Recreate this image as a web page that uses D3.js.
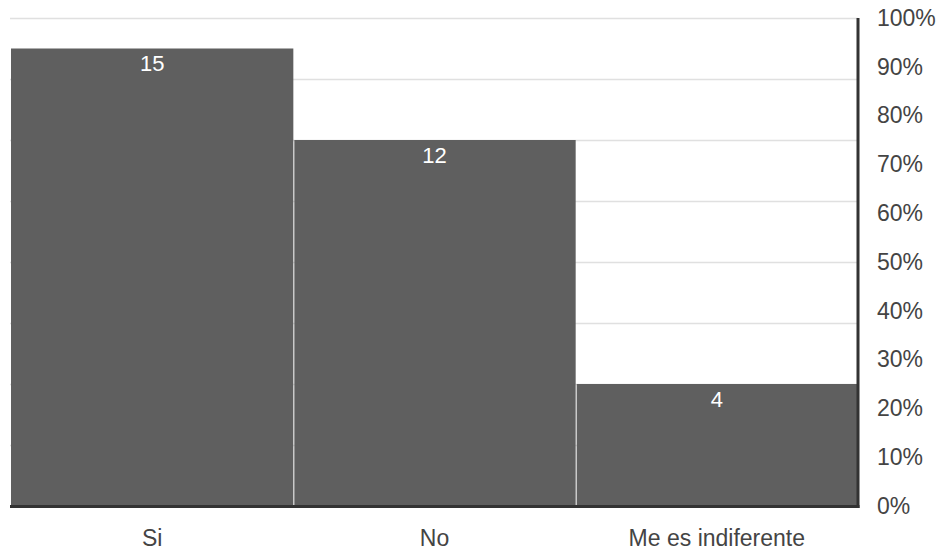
<!DOCTYPE html>
<html>
<head>
<meta charset="utf-8">
<script src="https://cdn.jsdelivr.net/npm/d3@7"></script>
<style>
  html, body { margin: 0; padding: 0; background: #ffffff; }
  svg { display: block; font-family: "Liberation Sans", Arial, Helvetica, sans-serif; }
</style>
</head>
<body>
<svg id="chart" width="943" height="552"></svg>
<script>
const categories = ["Si", "No", "Me es indiferente"];
const counts = [15, 12, 4];
const totalRespondents = 16;
const gridCounts = [0, 2, 4, 6, 8, 10, 12, 14, 16];
const percentTicks = [0, 0.1, 0.2, 0.3, 0.4, 0.5, 0.6, 0.7, 0.8, 0.9, 1.0];
const percentLabels = ["0%", "10%", "20%", "30%", "40%", "50%", "60%", "70%", "80%", "90%", "100%"];

(function () {
const svg = d3.select("#chart");
const mLeft = 11, mRight = 858, mTop = 18, mBottom = 506;

const x = d3.scaleBand().domain(categories).range([mLeft, mRight]).padding(0);
const yCount = d3.scaleLinear().domain([0, totalRespondents]).range([mBottom, mTop]);
const yPct = d3.scaleLinear().domain([0, 1]).range([mBottom, mTop]);

// gridlines
svg.append("g").selectAll("line").data(gridCounts).join("line")
  .attr("x1", mLeft - 1).attr("x2", mRight)
  .attr("y1", d => Math.round(yCount(d)) + 0.5)
  .attr("y2", d => Math.round(yCount(d)) + 0.5)
  .attr("stroke", "#e0e0e0").attr("stroke-width", 1.5);

// bars
svg.append("g").selectAll("rect").data(categories).join("rect")
  .attr("x", d => x(d) + (d === categories[0] ? 0 : 1))
  .attr("width", d => x.bandwidth() - (d === categories[0] ? 0 : 1))
  .attr("y", (d, i) => yCount(counts[i]))
  .attr("height", (d, i) => mBottom - yCount(counts[i]))
  .attr("fill", "#5f5f5f");

// value labels
svg.append("g").selectAll("text").data(categories).join("text")
  .attr("x", d => x(d) + x.bandwidth() / 2)
  .attr("y", (d, i) => yCount(counts[i]) + 22.5)
  .attr("text-anchor", "middle")
  .attr("fill", "#ffffff")
  .attr("font-size", 22)
  .text((d, i) => counts[i]);

// baseline axis
svg.append("line")
  .attr("x1", mLeft - 1).attr("x2", mRight + 1.5)
  .attr("y1", mBottom + 0.5).attr("y2", mBottom + 0.5)
  .attr("stroke", "#333333").attr("stroke-width", 3);

// right axis line
svg.append("line")
  .attr("x1", mRight).attr("x2", mRight)
  .attr("y1", mTop).attr("y2", mBottom + 2)
  .attr("stroke", "#333333").attr("stroke-width", 3);

// right percent labels
const yAxis = d3.axisRight(yPct).tickValues(percentTicks)
  .tickFormat((d, i) => percentLabels[i]).tickSize(0).tickPadding(0);
const ya = svg.append("g").attr("transform", `translate(${mRight + 19},0)`).call(yAxis);
ya.select(".domain").remove();
ya.selectAll("text").attr("font-size", 23).attr("fill", "#444444")
  .attr("font-family", "'Liberation Sans', Arial, sans-serif");

// category labels
const xAxis = d3.axisBottom(x).tickSize(0).tickPadding(0);
const xa = svg.append("g").call(xAxis);
xa.select(".domain").remove();
xa.selectAll("text").attr("font-size", 23).attr("fill", "#444444")
  .attr("font-family", "'Liberation Sans', Arial, sans-serif")
  .attr("dy", null).attr("y", 546);
})();
</script>
</body>
</html>
